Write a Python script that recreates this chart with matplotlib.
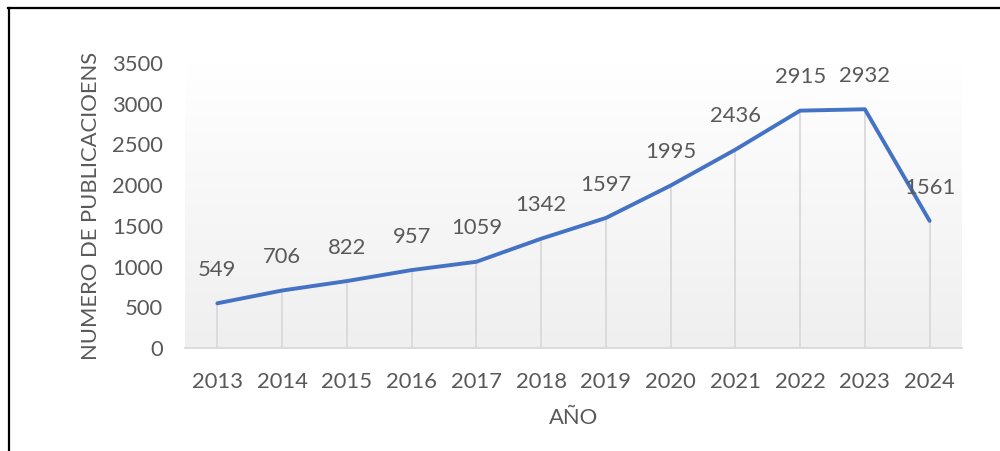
import matplotlib.pyplot as plt
import numpy as np
from matplotlib.lines import Line2D

years = ['2013', '2014', '2015', '2016', '2017', '2018', '2019', '2020', '2021', '2022', '2023', '2024']
pubs = [549, 706, 822, 957, 1059, 1342, 1597, 1995, 2436, 2915, 2932, 1561]
yticks = [0, 500, 1000, 1500, 2000, 2500, 3000, 3500]

plt.rcParams['font.family'] = ['Lato', 'DejaVu Sans']
txt = '#595959'
fs = 15.8

fig = plt.figure(figsize=(10, 4.51), dpi=100)
ax = fig.add_axes([0.185, 0.2284, 0.777, 0.6319])

x = np.arange(len(years))

# gradient plot area
grad = np.linspace(0, 1, 256).reshape(-1, 1)
ax.imshow(grad, cmap=plt.matplotlib.colors.LinearSegmentedColormap.from_list('g', ['#efefef', '#ffffff']),
          extent=[-0.5, 11.5, 0, 3500], aspect='auto', origin='lower', zorder=0)

ax.vlines(x, 0, pubs, color='#d9d9d9', lw=1.3, zorder=1)
ax.plot(x, pubs, color='#4472C4', lw=2.8, solid_capstyle='round', solid_joinstyle='round', zorder=3)

for xi, v in zip(x, pubs):
    ax.annotate(str(v), (xi, v), xytext=(0, 24), textcoords='offset points',
                ha='center', va='center', fontsize=fs, color=txt, zorder=4)

ax.set_xlim(-0.5, 11.5)
ax.set_ylim(0, 3500)
ax.set_xticks(x)
ax.set_xticklabels(years)
ax.set_yticks(yticks)
ax.tick_params(axis='both', length=0, labelsize=fs, labelcolor=txt)
ax.tick_params(axis='x', pad=17)
ax.tick_params(axis='y', pad=16)
for s in ['top', 'right', 'left']:
    ax.spines[s].set_visible(False)
ax.spines['bottom'].set_color('#d9d9d9')
ax.spines['bottom'].set_linewidth(1.3)

ax.set_xlabel('AÑO', fontsize=fs, color=txt, labelpad=12)
ax.set_ylabel('NUMERO DE PUBLICACIOENS', fontsize=fs, color=txt, labelpad=8)

# outer frame
fig.add_artist(Line2D([0.009, 0.009], [0, 0.982], color='black', lw=1.6, transform=fig.transFigure))
fig.add_artist(Line2D([0.008, 1.0], [0.982, 0.982], color='black', lw=1.6, transform=fig.transFigure))

fig.savefig('out.png', dpi=100)
